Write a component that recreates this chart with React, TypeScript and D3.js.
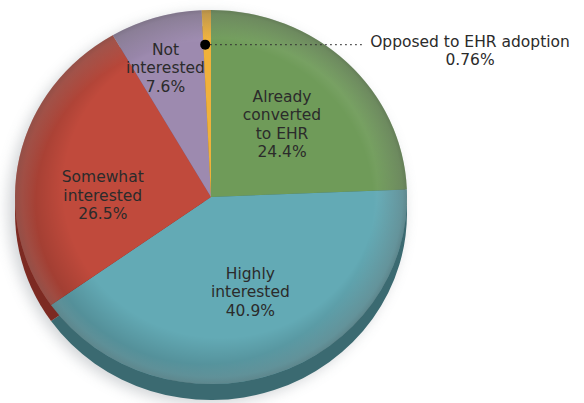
import * as d3 from "d3";
import React from "react";

// EHR adoption survey, share of respondents
const categories = [
  "Already converted to EHR",
  "Highly interested",
  "Somewhat interested",
  "Not interested",
  "Opposed to EHR adoption",
];
const shares = [24.4, 40.9, 26.5, 7.6, 0.76];
const labelLines = [
  ["Already", "converted", "to EHR", "24.4%"],
  ["Highly", "interested", "40.9%"],
  ["Somewhat", "interested", "26.5%"],
  ["Not", "interested", "7.6%"],
  ["Opposed to EHR adoption", "0.76%"],
];

const topColors = ["#6f9b59", "#63aab5", "#c04a3c", "#9d8aaf", "#f0b13a"];
const sideColors = ["#47693a", "#3b6a71", "#7c2a22", "#66557a", "#a5761f"];

const W = 584;
const H = 403;

const App: React.FC = () => {
  const cx = 211;
  const cy = 197;
  const rx = 196;
  const ry = 187;
  const depth = 16;
  const k = ry / rx;

  const pie = d3
    .pie<number>()
    .sort(null)
    .value((d) => d);
  const arcs = pie(shares);

  const arc = d3.arc<d3.PieArcDatum<number>>().innerRadius(0).outerRadius(rx);

  // label centre = centroid at a chosen radius, plus a small nudge
  const labelRadius = [0.56, 0.56, 0.56, 0.75];
  const labelNudge = [
    [-5, 3],
    [4, -4],
    [-1, 21],
    [-4, 6],
  ];
  const lineH = 18.4;
  const fontSize = 15.5;

  const labelPos = (i: number) => {
    const a = arcs[i];
    const r = rx * labelRadius[i];
    const la = d3.arc<d3.PieArcDatum<number>>().innerRadius(r).outerRadius(r);
    const [x, y] = la.centroid(a);
    return [cx + x + labelNudge[i][0], cy + y * k + labelNudge[i][1]];
  };

  // leader for the thin "opposed" slice
  const opp = arcs[4];
  const oppMid = (opp.startAngle + opp.endAngle) / 2;
  const dotR = rx * 0.815;
  const dotX = cx + Math.sin(oppMid) * dotR - 2;
  const dotY = cy - Math.cos(oppMid) * dotR * k;

  return (
    <svg
      width={W}
      height={H}
      style={{ position: "absolute", left: 0, top: 0, background: "#fff" }}
      fontFamily="'DejaVu Sans', Verdana, sans-serif"
    >
      <defs>
        <filter id="blur" x="-20%" y="-20%" width="140%" height="140%">
          <feGaussianBlur stdDeviation="7" />
        </filter>
        <radialGradient id="rim" cx="0.5" cy="0.5" r="0.5" fx="0.62" fy="0.38">
          <stop offset="0.8" stopColor="#000" stopOpacity="0" />
          <stop offset="0.97" stopColor="#000" stopOpacity="0.2" />
          <stop offset="1" stopColor="#000" stopOpacity="0.28" />
        </radialGradient>
        <radialGradient id="shine" cx="0.5" cy="0.5" r="0.5" fx="0.38" fy="0.62">
          <stop offset="0.86" stopColor="#fff" stopOpacity="0" />
          <stop offset="1" stopColor="#fff" stopOpacity="0.2" />
        </radialGradient>
      </defs>

      {/* soft drop shadow */}
      <ellipse
        cx={cx - 5}
        cy={cy + depth / 2 + 4}
        rx={rx + 2}
        ry={ry + depth / 2}
        fill="#9aa0a6"
        opacity={0.45}
        filter="url(#blur)"
      />

      {/* side of the disc */}
      <g transform={`translate(${cx},${cy + depth}) scale(1,${k})`}>
        {arcs.map((a, i) => (
          <path key={i} d={arc(a) || ""} fill={sideColors[i]} />
        ))}
      </g>

      {/* top face */}
      <g transform={`translate(${cx},${cy}) scale(1,${k})`}>
        {arcs.map((a, i) => (
          <path key={i} d={arc(a) || ""} fill={topColors[i]} />
        ))}
        <circle r={rx} fill="url(#shine)" />
        <circle r={rx} fill="url(#rim)" />
      </g>

      {/* slice labels */}
      {labelLines.slice(0, 4).map((lines, i) => {
        const [x, y] = labelPos(i);
        const y0 = y - ((lines.length - 1) * lineH) / 2 + 5;
        return (
          <text
            key={i}
            x={x}
            textAnchor="middle"
            fontSize={fontSize}
            fill="#2b2b2b"
          >
            {lines.map((l, j) => (
              <tspan key={j} x={x} y={y0 + j * lineH}>
                {l}
              </tspan>
            ))}
          </text>
        );
      })}

      {/* opposed callout */}
      <line
        x1={dotX}
        y1={dotY}
        x2={365}
        y2={dotY}
        stroke="#333"
        strokeWidth={1.2}
        strokeDasharray="1.5,3.5"
      />
      <circle cx={dotX} cy={dotY} r={5} fill="#000" />
      <text x={470} textAnchor="middle" fontSize={fontSize} fill="#2b2b2b">
        <tspan x={470} y={47}>
          {labelLines[4][0]}
        </tspan>
        <tspan x={470} y={65}>
          {labelLines[4][1]}
        </tspan>
      </text>
      <title>{categories.join(", ")}</title>
    </svg>
  );
};

export default App;
